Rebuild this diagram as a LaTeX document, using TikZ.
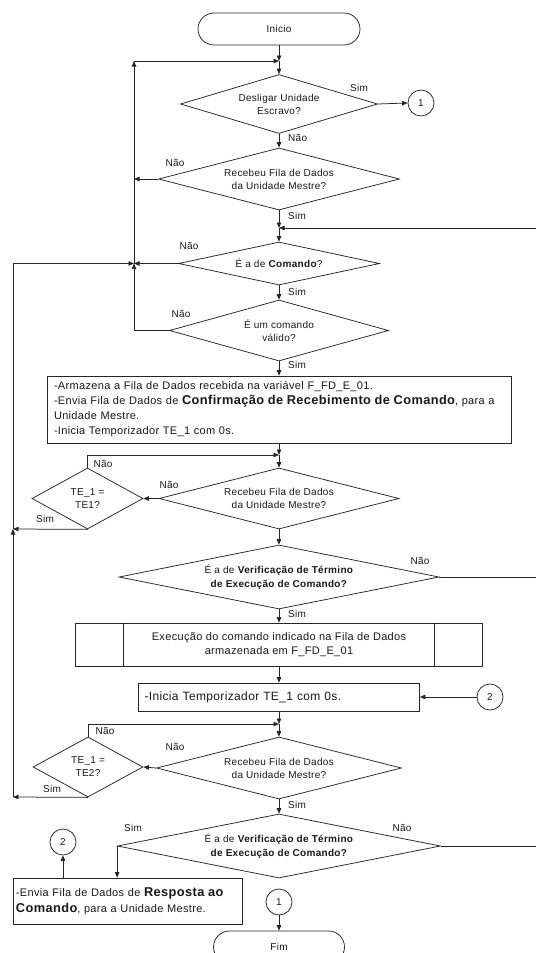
\documentclass[tikz,border=0pt]{standalone}
\usepackage{fontspec}
\setmainfont{Liberation Sans}[LetterSpace=3]
\usetikzlibrary{shapes.geometric,arrows.meta}
% larger bold emphasis used inside the process boxes
\newcommand\emb[1]{{\fontsize{12.8}{15}\selectfont\bfseries #1}}
\begin{document}
\begin{tikzpicture}[x=1pt,y=-1pt,
  line/.style={draw=black!85,line width=0.75pt},
  arr/.style={line,-{Triangle[length=5.5pt,width=4.5pt]}},
  base/.style={font=\fontsize{10}{13}\selectfont,text=black!90},
  boxtext/.style={font=\fontsize{11}{15}\selectfont},
  term/.style={base,draw=black!85,line width=0.75pt,rounded corners=16pt,minimum height=32pt,inner sep=0pt},
  dec/.style={base,diamond,draw=black!85,line width=0.75pt,inner sep=0pt,align=center},
  proc/.style={base,rectangle,draw=black!85,line width=0.75pt,inner sep=0pt},
  conn/.style={base,circle,draw=black!85,line width=0.75pt,inner sep=0pt,minimum size=26pt},
  lbl/.style={base,inner sep=0pt},
]
\useasboundingbox (0,0) rectangle (536,953);
\fill[white] (0,0) rectangle (536,953);
\clip (0,0) rectangle (536,953);

% ---- main column ----
\node[term,minimum width=162pt] (ini) at (279,29) {Inicio};
\node[dec,minimum width=197pt,minimum height=59pt,shape aspect=3.3] (d1) at (279,104) {Desligar Unidade\\Escravo?};
\node[dec,minimum width=241pt,minimum height=62pt,shape aspect=3.9] (d2) at (279,179) {Recebeu Fila de Dados\\da Unidade Mestre?};
\node[dec,minimum width=201pt,minimum height=43pt,shape aspect=4.6] (d3) at (279,263.5) {É a de \textbf{Comando}?};
\node[dec,minimum width=219pt,minimum height=61pt,shape aspect=3.6] (d4) at (279,330.5) {É um comando\\válido?};
\node[proc,minimum width=464pt,minimum height=67pt,text width=450pt,align=left,boxtext] (r1) at (279,409.5)
  {-Armazena a Fila de Dados recebida na variável F\_FD\_E\_01.\\
   -Envia Fila de Dados de \emb{Confirmação de Recebimento de Comando}, para a\\
   Unidade Mestre.\\
   -Inicia Temporizador TE\_1 com 0s.};
\node[dec,minimum width=240pt,minimum height=61pt,shape aspect=3.9] (d5) at (279,498.5) {Recebeu Fila de Dados\\da Unidade Mestre?};
\node[dec,minimum width=320pt,minimum height=64pt,shape aspect=5,font=\fontsize{10}{14}\selectfont] (d6) at (279,577) {É a de \textbf{Verificação de Término}\\\textbf{de Execução de Comando?}};
\node[proc,minimum width=407pt,minimum height=43pt,align=center,font=\fontsize{11}{14}\selectfont] (r2) at (279,644.5)
  {Execução do comando indicado na Fila de Dados\\armazenada em F\_FD\_E\_01};
\draw[line] ([xshift=48pt]r2.north west) -- ([xshift=48pt]r2.south west);
\draw[line] ([xshift=-49pt]r2.north east) -- ([xshift=-49pt]r2.south east);
\node[proc,minimum width=281pt,minimum height=28pt,text width=269pt,align=left,font=\fontsize{12}{14}\selectfont] (r3) at (279,697) {-Inicia Temporizador TE\_1 com 0s.};
\node[dec,minimum width=245pt,minimum height=62pt,shape aspect=3.9] (d7) at (279,768) {Recebeu Fila de Dados\\da Unidade Mestre?};
\node[dec,minimum width=323pt,minimum height=64pt,shape aspect=5,font=\fontsize{10}{14}\selectfont] (d8) at (279,846) {É a de \textbf{Verificação de Término}\\\textbf{de Execução de Comando?}};
\node[term,minimum width=131pt] (fim) at (279,947) {Fim};

% ---- side nodes ----
\node[dec,minimum width=111pt,minimum height=61pt,shape aspect=1.8] (te1) at (87.5,498.5) {TE\_1 =\\TE1?};
\node[dec,minimum width=110pt,minimum height=60pt,shape aspect=1.8] (te2) at (88,767) {TE\_1 =\\TE2?};
\node[proc,minimum width=229pt,minimum height=46pt,text width=223pt,align=left,font=\fontsize{11}{16}\selectfont] (r4) at (127.5,901)
  {-Envia Fila de Dados de \emb{Resposta ao}\\\emb{Comando}, para a Unidade Mestre.};
\node[conn] (c1a) at (421,103) {1};
\node[conn] (c2a) at (490,697) {2};
\node[conn] (c2b) at (63,842) {2};
\node[conn] (c1b) at (279,902) {1};

% ---- junction points ----
\coordinate (j0) at (279,61);
\coordinate (j1) at (279,228);
\coordinate (j2) at (279,455);
\coordinate (j3) at (279,724);
\coordinate (lT) at (134,61);
\coordinate (lA) at (134,179);
\coordinate (lB) at (134,263.5);
\coordinate (oM) at (13,529);
\coordinate (oB) at (13,797);
\coordinate (rE1) at (536,228);
\coordinate (rE2) at (536,577);
\coordinate (rE3) at (536,846);

% ---- main flow ----
\draw[arr] (ini.south) -- (j0);
\draw[arr] (j0) -- (d1.north);
\draw[arr] (d1.south) -- (d2.north);
\draw[arr] (d2.south) -- (j1);
\draw[arr] (j1) -- (d3.north);
\draw[arr] (d3.south) -- (d4.north);
\draw[arr] (d4.south) -- (r1.north);
\draw[arr] (r1.south) -- (j2);
\draw[arr] (j2) -- (d5.north);
\draw[arr] (d5.south) -- (d6.north);
\draw[arr] (d6.south) -- (r2.north);
\draw[arr] (r2.south) -- (r3.north);
\draw[arr] (r3.south) -- (j3);
\draw[arr] (j3) -- (d7.north);
\draw[arr] (d7.south) -- (d8.north);
\draw[arr] (d1.east) -- (c1a.west);

% ---- inner return loop ----
\draw[arr] (d2.west) -- (lA);
\draw[arr] (d3.west) -- (lB);
\draw[arr] (d4.west) -| (lB);
\draw[arr] (lB) -- (lT);
\draw[arr] (lT) -- (j0);

% ---- timeout loops ----
\draw[arr] (d5.west) -- (te1.east);
\draw[arr] (te1.north) |- (j2);
\draw[arr] (d7.west) -- (te2.east);
\draw[arr] (te2.north) |- (j3);
\draw[arr] (te1.south) -- (oM);
\draw[arr] (te2.south) -- (oB);
\draw[arr] (oB) -- (oM);
\draw[arr] (oM) |- (lB);

% ---- links leaving and entering on the right ----
\draw[arr] (rE1) -- (j1);
\draw[line] (d6.east) -- (rE2);
\draw[line] (d8.east) -- (rE3);
\draw[arr] (c2a.west) -- (r3.east);

% ---- end of the flow ----
\draw[arr] (d8.west) -- (d8.west |- r4.north);
\draw[arr] (r4.north -| c2b) -- (c2b.south);
\draw[arr] (c1b.south) -- (fim.north);

% ---- branch labels ----
\node[lbl] at (359,88) {Sim};
\node[lbl,anchor=west] at (288,138) {Não};
\node[lbl] at (175,163) {Não};
\node[lbl,anchor=west] at (288,216) {Sim};
\node[lbl] at (189,246) {Não};
\node[lbl,anchor=west] at (288,292) {Sim};
\node[lbl] at (181,314) {Não};
\node[lbl,anchor=west] at (288,365) {Sim};
\node[lbl] at (103,464) {Não};
\node[lbl] at (45,519) {Sim};
\node[lbl] at (169,485) {Não};
\node[lbl] at (420,561) {Não};
\node[lbl,anchor=west] at (288,614) {Sim};
\node[lbl] at (105,731) {Não};
\node[lbl] at (175,747) {Não};
\node[lbl] at (52,789) {Sim};
\node[lbl,anchor=west] at (288,805) {Sim};
\node[lbl] at (133,828) {Sim};
\node[lbl] at (402,828) {Não};
\end{tikzpicture}
\end{document}
